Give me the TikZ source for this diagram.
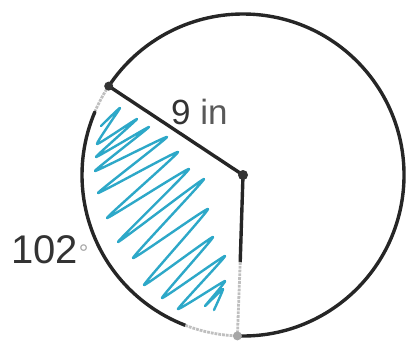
\documentclass[tikz,border=0pt]{standalone}
\usepackage{fontspec}
\setmainfont{Liberation Sans}
\definecolor{scrib}{RGB}{45,168,200}
\begin{document}
\begin{tikzpicture}[x=1pt,y=1pt,
  ink/.style={draw=black!85, line width=3.4pt, line cap=round},
  faded/.style={draw=black!25, line width=2.8pt, densely dotted},
  scribble/.style={draw=scrib, line width=2.4pt, line cap=round, line join=round},
  dot/.style={circle, fill=black!80, inner sep=0pt, minimum size=10pt},
  fdot/.style={circle, fill=black!35, inner sep=0pt, minimum size=9pt},
  lbl/.style={text=black!80, inner sep=0pt}]
\useasboundingbox (0,0) rectangle (417,-350);
% points
\coordinate (O) at (243,-175);
\coordinate (A) at (108.7,-86.1);
\coordinate (B) at (237.4,-335.9);
\coordinate (M) at (240.2,-262);
% scribble shading
\draw[scribble] plot[smooth, tension=0.25] coordinates {
  (101,-126) (120,-108) (97,-144) (137,-119) (96,-157)
  (149,-127) (95,-171) (167,-137) (98,-193) (178,-152)
  (107,-218) (189,-169) (118,-242) (204,-179) (133,-258)
  (208,-209) (144,-285) (213,-237) (162,-298) (225,-256)
  (178,-309) (225,-281) (205,-306) (223,-289) (214,-310)};
% circle
\draw[faded] (A) arc[start angle=146.5, end angle=157, radius=161];
\draw[ink] ([shift={(157:161)}]O) arc[start angle=157, end angle=249, radius=161];
\draw[faded] ([shift={(249:161)}]O) arc[start angle=249, end angle=268, radius=161];
\draw[ink] (B) arc[start angle=268, end angle=506.5, radius=161];
% radii
\draw[ink] (A) -- (O);
\draw[ink] (O) -- (M);
\draw[faded] (M) -- (B);
% dots
\node[dot] (Od) at (O) {};
\node[dot, minimum size=9pt] (Ad) at (A) {};
\node[fdot] (Bd) at (B) {};
% labels
\node[lbl, font=\fontsize{35}{35}\selectfont, anchor=west] (r) at (171,-112) {9 \textcolor{black!65}{in}};
\node[lbl, font=\fontsize{40}{40}\selectfont, anchor=west] (ang) at (11,-250) {102\hspace{1pt}\textcolor{black!35}{\fontsize{24}{24}\selectfont\raisebox{2pt}{°}}};
\end{tikzpicture}
\end{document}
